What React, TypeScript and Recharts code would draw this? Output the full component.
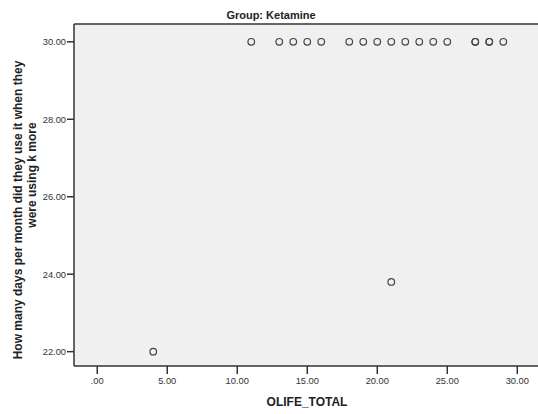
import React from 'react';
import {
  ScatterChart, Scatter, XAxis, YAxis, CartesianGrid, ReferenceLine,
} from 'recharts';

// OLIFE_TOTAL vs days per month (Group: Ketamine)
const olifeTotal = [4, 11, 13, 14, 15, 16, 18, 19, 20, 21, 21, 22, 23, 24, 25, 27, 27, 28, 28, 29];
const daysPerMonth = [22, 30, 30, 30, 30, 30, 30, 30, 30, 30, 23.8, 30, 30, 30, 30, 30, 30, 30, 30, 30];

const xTicks = [0, 5, 10, 15, 20, 25, 30];
const yTicks = [22, 24, 26, 28, 30];

const X_DOMAIN: [number, number] = [-1.66, 31.48];
const Y_DOMAIN: [number, number] = [21.63, 30.46];

const points = olifeTotal.map((x, i) => ({ x, y: daysPerMonth[i] }));

const fmt = (v: number) => (v === 0 ? '.00' : v.toFixed(2));

const FONT = '"Liberation Sans", Arial, sans-serif';
const tickStyle = { fill: '#333', fontSize: 9.3, fontFamily: FONT };

const App: React.FC = () => {
  return (
    <div style={{ position: 'absolute', left: 0, top: 0, width: 538, height: 414, background: '#fff' }}>
      <ScatterChart width={538} height={414} margin={{ top: 24, right: 0, bottom: 0, left: 0 }}>
        <CartesianGrid horizontal={false} vertical={false} fill="#F0F0F0" stroke="none" />
        <XAxis
          type="number"
          dataKey="x"
          domain={X_DOMAIN}
          ticks={xTicks}
          allowDataOverflow
          tickFormatter={fmt}
          height={48}
          tickSize={8}
          tickMargin={3}
          stroke="#333"
          strokeWidth={1.5}
          tick={tickStyle}
        />
        <YAxis
          type="number"
          dataKey="y"
          domain={Y_DOMAIN}
          ticks={yTicks}
          allowDataOverflow
          tickFormatter={fmt}
          width={74}
          tickSize={7}
          tickMargin={1}
          stroke="#333"
          strokeWidth={1.5}
          tick={tickStyle}
        />
        <ReferenceLine y={Y_DOMAIN[1]} stroke="#333" strokeWidth={1.5} />
        <Scatter
          data={points}
          isAnimationActive={false}
          shape={(p: any) => (
            <circle cx={p.cx} cy={p.cy} r={3.3} fill="none" stroke="#444" strokeWidth={1.2} />
          )}
        />
      </ScatterChart>
      <svg width={538} height={414} style={{ position: 'absolute', left: 0, top: 0, pointerEvents: 'none' }}>
        <text x={271} y={19} textAnchor="middle" fontFamily={FONT} fontWeight="bold" fontSize={11} fill="#222">
          Group: Ketamine
        </text>
        <text x={307} y={406} textAnchor="middle" fontFamily={FONT} fontWeight="bold" fontSize={12} fill="#222">
          OLIFE_TOTAL
        </text>
        <text
          transform="translate(22,210) rotate(-90)"
          textAnchor="middle"
          fontFamily={FONT}
          fontWeight="bold"
          fontSize={12}
          fill="#222"
        >
          How many days per  month did they use it when they
        </text>
        <text
          transform="translate(36,175) rotate(-90)"
          textAnchor="middle"
          fontFamily={FONT}
          fontWeight="bold"
          fontSize={12}
          fill="#222"
        >
          were using k more
        </text>
      </svg>
    </div>
  );
};

export default App;
